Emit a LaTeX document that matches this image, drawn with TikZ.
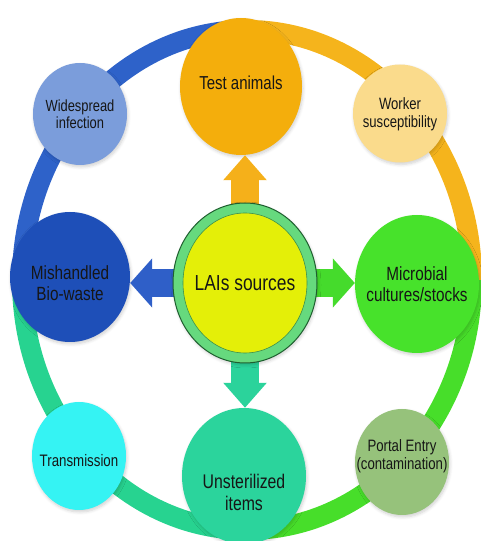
\documentclass[tikz,border=0pt]{standalone}
\usepackage{fontspec}
\usepackage{graphicx}
\setmainfont{Liberation Sans}
\usetikzlibrary{shapes.geometric,arrows.meta,shadows.blur}
\definecolor{ringblue}{HTML}{2E62C9}
\definecolor{ringorange}{HTML}{F5B41C}
\definecolor{ringgreen}{HTML}{47DE2A}
\definecolor{ringteal}{HTML}{27D390}
\definecolor{ctest}{HTML}{F4AE0C}
\definecolor{cwide}{HTML}{7B9DDB}
\definecolor{cwork}{HTML}{FADB8C}
\definecolor{cmis}{HTML}{1E4FB8}
\definecolor{cmic}{HTML}{47E22B}
\definecolor{clai}{HTML}{E4EF08}
\definecolor{claiband}{HTML}{66D97E}
\definecolor{claiedge}{HTML}{1F5F2F}
\definecolor{ctra}{HTML}{35F3F3}
\definecolor{cuns}{HTML}{2BD49C}
\definecolor{cpor}{HTML}{96C27B}
\definecolor{ctxt}{HTML}{161616}
\definecolor{arrorange}{HTML}{F5B01A}
\definecolor{arrblue}{HTML}{2F5FC8}
\definecolor{arrgreen}{HTML}{45DB2C}
\definecolor{arrteal}{HTML}{2BD39B}
\tikzset{
  ball/.style={ellipse, inner sep=0pt, draw=none,
    blur shadow={shadow xshift=1pt, shadow yshift=-2pt, shadow opacity=18, shadow blur steps=6, shadow blur radius=3pt}},
  lbl/.style={align=center, text=ctxt, inner sep=0pt, yshift=-2.5pt},
  ringarc/.style={line width=20pt, line cap=butt},
  varrow/.style={line width=28pt, -{Triangle[width=42pt,length=25pt]}},
  harrow/.style={line width=28pt, -{Triangle[width=48pt,length=22pt]}},
}
% size, text
\newcommand{\st}[2]{\scalebox{1}[1.25]{\fontsize{#1}{1.1\dimexpr#1pt\relax}\selectfont\begin{tabular}{@{}c@{}}#2\end{tabular}}}
\begin{document}
\begin{tikzpicture}[x=1pt,y=1pt]
\useasboundingbox (0,0) rectangle (481,541);
\coordinate (rc) at (247,261);
% ring
\draw[ringarc, ringblue]   ([shift={(180:225 and 250)}]rc) arc[start angle=180, end angle=90,  x radius=225, y radius=250];
\draw[ringarc, ringorange] ([shift={(90:225 and 250)}]rc)  arc[start angle=90,  end angle=0,   x radius=225, y radius=250];
\draw[ringarc, ringgreen]  ([shift={(0:225 and 250)}]rc)   arc[start angle=0,   end angle=-90, x radius=225, y radius=250];
\draw[ringarc, ringteal]   ([shift={(-90:225 and 250)}]rc) arc[start angle=-90, end angle=-180,x radius=225, y radius=250];
% outer nodes
\node[ball, fill=ctest, minimum width=122pt, minimum height=137pt,
  label={[lbl, yshift=3.5pt]center:\st{15}{Test animals}}] (test) at (241,454.5) {};
\node[ball, fill=cwide, minimum width=94pt, minimum height=102pt,
  label={[lbl]center:\st{12.9}{Widespread\\infection}}] (wide) at (80,427) {};
\node[ball, fill=cwork, minimum width=94pt, minimum height=98pt,
  label={[lbl, yshift=1pt]center:\st{13.1}{Worker\\susceptibility}}] (work) at (400,427.5) {};
\node[ball, fill=cmis, minimum width=120pt, minimum height=130pt,
  label={[lbl, yshift=-6pt]center:\st{15.3}{Mishandled\\Bio-waste}}] (mis) at (70,264) {};
\node[ball, fill=cmic, minimum width=124pt, minimum height=138pt,
  label={[lbl]center:\st{15.3}{Microbial\\cultures/stocks}}] (mic) at (417,257) {};
\node[ball, fill=ctra, minimum width=94pt, minimum height=108pt,
  label={[lbl, yshift=-4pt]center:\st{13.3}{Transmission}}] (tra) at (79,85) {};
\node[ball, fill=cuns, minimum width=124pt, minimum height=136pt,
  label={[lbl, yshift=-17pt]center:\st{15.8}{Unsterilized\\items}}] (uns) at (244,65) {};
\node[ball, fill=cpor, minimum width=94pt, minimum height=106pt,
  label={[lbl, yshift=8pt]center:\st{13.2}{Portal Entry\\(contamination)}}] (por) at (402,79) {};
% centre and its arrows
\coordinate (laic) at (245,258);
\draw[varrow, arrorange] (laic) -- (laic |- test.south);
\draw[varrow, arrteal]   (laic) -- (laic |- uns.north);
\draw[harrow, arrblue]   (laic) -- (laic -| mis.east);
\draw[harrow, arrgreen]  (laic) -- (laic -| mic.west);
\node[ball, fill=claiband, draw=claiedge, line width=1pt, minimum width=144pt, minimum height=160pt] (lai) at (laic) {};
\node[ellipse, inner sep=0pt, fill=clai, draw=claiedge!60!claiband, line width=0.6pt, minimum width=124pt, minimum height=140pt,
  label={[lbl]center:\st{17.4}{LAIs sources}}] (laiin) at (lai.center) {};
\end{tikzpicture}
\end{document}
